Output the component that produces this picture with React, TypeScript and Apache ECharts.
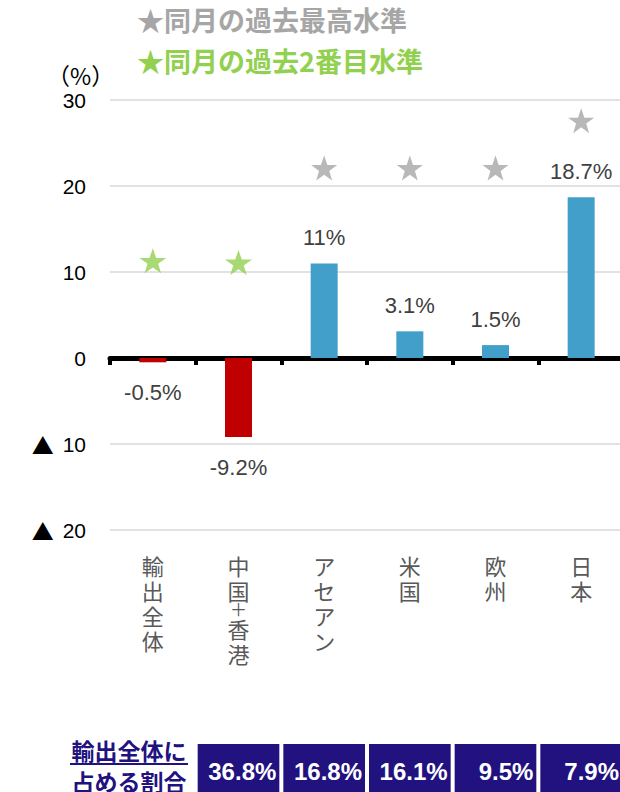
import React, { useEffect, useRef } from "react";
import * as echarts from "echarts";

const categories = ["輸出全体", "中国＋香港", "アセアン", "米国", "欧州", "日本"];
const growth = [-0.5, -9.2, 11, 3.1, 1.5, 18.7];
const recordHigh: (number | null)[] = [null, null, 22.1, 22.1, 22.1, 27.6];
const secondHigh: (number | null)[] = [11.3, 11.1, null, null, null, null];
const shares: (number | null)[] = [null, 36.8, 16.8, 16.1, 9.5, 7.9];
const legendTexts = ["★同月の過去最高水準", "★同月の過去2番目水準"];
const unitText = "（%）";
const shareTitle = ["輸出全体に", "占める割合"];
const yMin = -20;
const yMax = 30;
const yInterval = 10;

const STAR =
  "path://M50,0 L61.8,35.1 L98.1,35.1 L68.8,56.8 L79.4,91.8 L50,70.6 L20.6,91.8 L31.2,56.8 L1.9,35.1 L38.2,35.1 Z";

const NUM_FONT = "Liberation Sans";
const JP_FONT = "Noto Sans CJK JP";
const NAVY = "#21127f";

export default function App() {
  const ref = useRef<HTMLDivElement>(null);
  useEffect(() => {
    if (!ref.current) return;
    const chart = echarts.init(ref.current, undefined, { renderer: "svg" });
    const option: any = {
      animation: false,
      backgroundColor: "#ffffff",
      grid: {
        left: 110,
        top: 100,
        width: 514,
        height: 430,
        containLabel: false,
        outerBoundsMode: "none",
      },
      xAxis: {
        type: "category",
        data: categories,
        boundaryGap: true,
        axisLine: { onZero: true, lineStyle: { color: "#000", width: 5 } },
        axisTick: { show: true, length: 7, lineStyle: { color: "#000", width: 4 } },
        axisLabel: {
          interval: 0,
          margin: 22,
          color: "#595959",
          fontSize: 22,
          lineHeight: 25,
          fontFamily: JP_FONT,
          verticalAlign: "top",
          formatter: (v: string) =>
            v
              .split("")
              .map((ch) => (ch === "＋" ? "{p|＋}" : ch))
              .join("\n"),
          rich: {
            p: { fontSize: 17, lineHeight: 13, color: "#595959", fontFamily: JP_FONT },
          },
        },
        splitLine: { show: false },
      },
      yAxis: {
        type: "value",
        min: yMin,
        max: yMax,
        interval: yInterval,
        axisLine: { show: false },
        axisTick: { show: false },
        splitLine: { lineStyle: { color: "#d9d9d9", width: 1.5 } },
        axisLabel: {
          color: "#000",
          fontSize: 21,
          fontFamily: NUM_FONT,
          margin: 24,
          formatter: (v: number) => (v < 0 ? `{tri|▲} ${-v}` : `${v}`),
          rich: {
            tri: {
              fontSize: 22,
              fontFamily: JP_FONT,
              color: "#000",
              padding: [0, 3, 0, 0],
            },
          },
        },
      },
      series: [
        {
          type: "bar",
          barWidth: 27,
          data: growth.map((v) => ({
            value: v,
            itemStyle: { color: v < 0 ? "#c00000" : "#419fca" },
            label: {
              show: true,
              position: v < 0 ? "bottom" : "top",
              distance: v < 0 ? 19 : 15,
              formatter: `${v}%`,
              color: "#404040",
              fontSize: 22,
              fontFamily: NUM_FONT,
            },
          })),
          z: 1,
        },
        {
          type: "scatter",
          symbol: STAR,
          symbolSize: [26, 25],
          itemStyle: { color: "#a6a6a6" },
          data: categories
            .map((c, i) => (recordHigh[i] == null ? null : [c, recordHigh[i]]))
            .filter((d) => d !== null),
          z: 3,
        },
        {
          type: "scatter",
          symbol: STAR,
          symbolSize: [27, 25],
          itemStyle: { color: "#92d050" },
          data: categories
            .map((c, i) => (secondHigh[i] == null ? null : [c, secondHigh[i]]))
            .filter((d) => d !== null),
          z: 3,
        },
        {
          type: "custom",
          clip: false,
          silent: true,
          data: shares
            .map((s, i) => (s == null ? null : [i, s]))
            .filter((d) => d !== null),
          renderItem: (params: any, api: any) => {
            const cx = api.coord([api.value(0), 0])[0];
            const bw = api.size([1, 0])[0];
            const cs = params.coordSys;
            const top = cs.y + cs.height + 214;
            const w = bw - 4;
            const left = cx - w / 2;
            return {
              type: "group",
              children: [
                {
                  type: "rect",
                  shape: { x: left, y: top, width: w, height: 60 },
                  style: { fill: NAVY },
                },
                {
                  type: "text",
                  x: left + w - 3,
                  y: top + 27,
                  style: {
                    text: `${api.value(1)}%`,
                    fill: "#fff",
                    fontSize: 24,
                    fontWeight: "bold",
                    fontFamily: NUM_FONT,
                    align: "right",
                    verticalAlign: "middle",
                  },
                },
              ],
            };
          },
        },
      ],
      graphic: [
        {
          type: "text",
          left: 137,
          top: 6,
          style: {
            text: legendTexts[0],
            fill: "#a6a6a6",
            fontSize: 27,
            fontWeight: "bold",
            fontFamily: JP_FONT,
          },
        },
        {
          type: "text",
          left: 137,
          top: 47,
          style: {
            text: legendTexts[1],
            fill: "#92d050",
            fontSize: 27,
            fontWeight: "bold",
            fontFamily: JP_FONT,
          },
        },
        {
          type: "text",
          left: 47,
          top: 63,
          style: {
            text: unitText,
            fill: "#000",
            fontSize: 23,
            fontFamily: JP_FONT,
          },
        },
        {
          type: "text",
          x: 129,
          y: 750,
          style: {
            text: shareTitle[0],
            fill: NAVY,
            fontSize: 23,
            fontWeight: "bold",
            fontFamily: JP_FONT,
            align: "center",
            verticalAlign: "middle",
          },
        },
        {
          type: "line",
          shape: { x1: 70, y1: 764, x2: 188, y2: 764 },
          style: { stroke: NAVY, lineWidth: 2 },
        },
        {
          type: "text",
          x: 129,
          y: 781,
          style: {
            text: shareTitle[1],
            fill: NAVY,
            fontSize: 23,
            fontWeight: "bold",
            fontFamily: JP_FONT,
            align: "center",
            verticalAlign: "middle",
          },
        },
      ],
    };
    chart.setOption(option);
    return () => chart.dispose();
  }, []);
  return (
    <div
      ref={ref}
      style={{ position: "absolute", left: 0, top: 0, width: 620, height: 792 }}
    />
  );
}
